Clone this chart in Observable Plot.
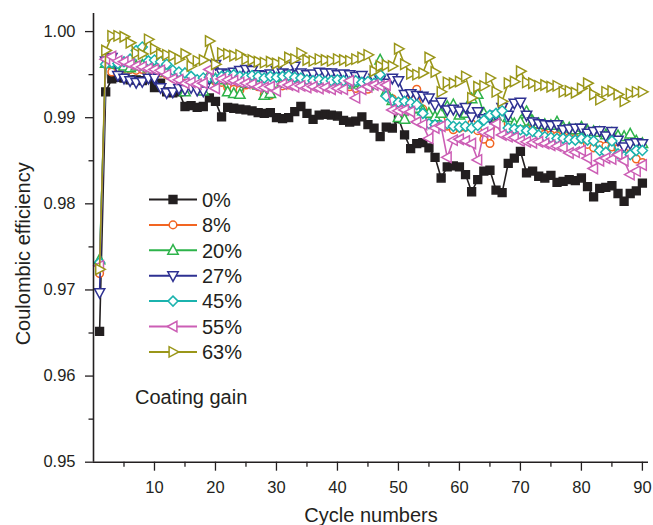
<!DOCTYPE html>
<html>
<head>
<meta charset="utf-8">
<script src="https://cdn.jsdelivr.net/npm/d3@7"></script>
<script src="https://cdn.jsdelivr.net/npm/@observablehq/plot@0.6"></script>
<style>
  html, body { margin: 0; padding: 0; background: #fff; }
  #chart { width: 653px; height: 525px; }
</style>
</head>
<body>
<div id="chart"></div>
<script>
// ---------- data ----------
const cycles = [1,2,3,4,5,6,7,8,9,10,11,12,13,14,15,16,17,18,19,20,21,22,23,24,25,26,27,28,29,30,
  31,32,33,34,35,36,37,38,39,40,41,42,43,44,45,46,47,48,49,50,51,52,53,54,55,56,57,58,59,60,
  61,62,63,64,65,66,67,68,69,70,71,72,73,74,75,76,77,78,79,80,81,82,83,84,85,86,87,88,89,90];

const seriesNames = ["0%", "8%", "20%", "27%", "45%", "55%", "63%"];

const ce0 = [0.9652,0.9930,0.9945,0.9947,0.9946,0.9944,0.9944,0.9943,0.9945,0.9935,
  0.9940,0.9930,0.9929,0.9930,0.9913,0.9914,0.9912,0.9913,0.9923,0.9919,
  0.9901,0.9912,0.9911,0.9910,0.9909,0.9908,0.9906,0.9905,0.9906,0.9900,
  0.9899,0.9900,0.9907,0.9913,0.9905,0.9898,0.9903,0.9904,0.9903,0.9902,
  0.9897,0.9895,0.9896,0.9901,0.9892,0.9888,0.9878,0.9889,0.9888,0.9899,
  0.9880,0.9864,0.9870,0.9871,0.9865,0.9854,0.9830,0.9843,0.9844,0.9843,
  0.9834,0.9814,0.9828,0.9838,0.9839,0.9816,0.9813,0.9847,0.9853,0.9861,
  0.9836,0.9838,0.9832,0.9830,0.9833,0.9825,0.9826,0.9828,0.9827,0.9830,
  0.9820,0.9808,0.9818,0.9819,0.9821,0.9812,0.9803,0.9812,0.9815,0.9824];

const ce8 = [0.9719,0.9962,0.9953,0.9958,0.9957,0.9956,0.9955,0.9956,0.9954,0.9953,
  0.9952,0.9950,0.9946,0.9942,0.9940,0.9941,0.9939,0.9938,0.9945,0.9942,
  0.9941,0.9935,0.9933,0.9932,0.9938,0.9939,0.9936,0.9927,0.9926,0.9935,
  0.9937,0.9938,0.9940,0.9939,0.9938,0.9937,0.9938,0.9936,0.9937,0.9936,
  0.9935,0.9936,0.9934,0.9935,0.9933,0.9940,0.9945,0.9927,0.9922,0.9918,
  0.9915,0.9928,0.9933,0.9910,0.9902,0.9895,0.9897,0.9890,0.9886,0.9888,
  0.9889,0.9893,0.9885,0.9875,0.9870,0.9895,0.9913,0.9893,0.9890,0.9888,
  0.9887,0.9886,0.9884,0.9881,0.9880,0.9879,0.9878,0.9877,0.9876,0.9875,
  0.9869,0.9865,0.9868,0.9867,0.9866,0.9864,0.9860,0.9858,0.9852,0.9848];

const ce20 = [0.9735,0.9963,0.9966,0.9962,0.9960,0.9958,0.9960,0.9961,0.9958,0.9957,
  0.9955,0.9953,0.9950,0.9938,0.9930,0.9940,0.9938,0.9931,0.9950,0.9945,
  0.9944,0.9930,0.9928,0.9927,0.9940,0.9942,0.9938,0.9926,0.9928,0.9940,
  0.9942,0.9941,0.9943,0.9944,0.9940,0.9941,0.9942,0.9940,0.9939,0.9941,
  0.9940,0.9939,0.9941,0.9938,0.9937,0.9950,0.9967,0.9930,0.9920,0.9900,
  0.9898,0.9910,0.9911,0.9908,0.9905,0.9901,0.9905,0.9913,0.9915,0.9903,
  0.9905,0.9922,0.9927,0.9905,0.9900,0.9902,0.9910,0.9900,0.9893,0.9895,
  0.9907,0.9896,0.9893,0.9892,0.9891,0.9895,0.9889,0.9888,0.9886,0.9889,
  0.9885,0.9884,0.9883,0.9880,0.9882,0.9879,0.9878,0.9881,0.9873,0.9870];

const ce27 = [0.9697,0.9966,0.9970,0.9949,0.9946,0.9943,0.9941,0.9942,0.9946,0.9946,
  0.9935,0.9929,0.9930,0.9934,0.9933,0.9935,0.9932,0.9931,0.9945,0.9962,
  0.9952,0.9951,0.9953,0.9955,0.9956,0.9955,0.9950,0.9949,0.9951,0.9955,
  0.9952,0.9951,0.9960,0.9952,0.9950,0.9951,0.9953,0.9952,0.9952,0.9950,
  0.9951,0.9950,0.9948,0.9949,0.9940,0.9946,0.9944,0.9940,0.9946,0.9943,
  0.9927,0.9928,0.9926,0.9925,0.9923,0.9915,0.9918,0.9909,0.9910,0.9908,
  0.9912,0.9901,0.9907,0.9899,0.9900,0.9903,0.9912,0.9903,0.9917,0.9918,
  0.9903,0.9895,0.9893,0.9892,0.9891,0.9892,0.9886,0.9887,0.9888,0.9888,
  0.9882,0.9884,0.9885,0.9879,0.9884,0.9874,0.9866,0.9870,0.9871,0.9870];

const ce45 = [0.9732,0.9962,0.9964,0.9963,0.9965,0.9968,0.9978,0.9982,0.9966,0.9967,
  0.9965,0.9962,0.9955,0.9953,0.9952,0.9948,0.9944,0.9946,0.9947,0.9945,
  0.9948,0.9949,0.9950,0.9948,0.9947,0.9949,0.9948,0.9946,0.9948,0.9947,
  0.9948,0.9949,0.9947,0.9946,0.9944,0.9943,0.9944,0.9942,0.9943,0.9944,
  0.9943,0.9942,0.9943,0.9941,0.9942,0.9940,0.9950,0.9925,0.9920,0.9918,
  0.9919,0.9917,0.9915,0.9905,0.9893,0.9892,0.9891,0.9893,0.9890,0.9889,
  0.9890,0.9888,0.9891,0.9897,0.9903,0.9905,0.9908,0.9888,0.9887,0.9886,
  0.9885,0.9884,0.9880,0.9878,0.9877,0.9876,0.9876,0.9875,0.9874,0.9876,
  0.9874,0.9873,0.9862,0.9860,0.9873,0.9858,0.9855,0.9857,0.9862,0.9862];

const ce55 = [0.9728,0.9968,0.9971,0.9966,0.9965,0.9962,0.9960,0.9959,0.9957,0.9956,
  0.9955,0.9950,0.9945,0.9944,0.9940,0.9941,0.9939,0.9940,0.9956,0.9934,
  0.9945,0.9944,0.9943,0.9941,0.9940,0.9939,0.9936,0.9935,0.9936,0.9931,
  0.9939,0.9938,0.9936,0.9937,0.9935,0.9936,0.9934,0.9935,0.9933,0.9934,
  0.9933,0.9943,0.9923,0.9933,0.9936,0.9938,0.9937,0.9938,0.9909,0.9908,
  0.9909,0.9907,0.9895,0.9892,0.9876,0.9888,0.9890,0.9854,0.9874,0.9875,
  0.9873,0.9870,0.9851,0.9883,0.9882,0.9893,0.9880,0.9878,0.9877,0.9873,
  0.9872,0.9871,0.9872,0.9870,0.9868,0.9867,0.9865,0.9859,0.9860,0.9862,
  0.9853,0.9841,0.9850,0.9853,0.9852,0.9857,0.9850,0.9834,0.9838,0.9845];

const ce63 = [0.9724,0.9978,0.9995,0.9995,0.9994,0.9987,0.9975,0.9974,0.9991,0.9980,
  0.9974,0.9973,0.9972,0.9968,0.9974,0.9960,0.9966,0.9967,0.9989,0.9962,
  0.9975,0.9974,0.9972,0.9973,0.9968,0.9967,0.9965,0.9964,0.9965,0.9963,
  0.9964,0.9970,0.9968,0.9975,0.9967,0.9966,0.9968,0.9967,0.9966,0.9968,
  0.9967,0.9966,0.9968,0.9970,0.9973,0.9954,0.9960,0.9961,0.9960,0.9980,
  0.9962,0.9951,0.9950,0.9952,0.9970,0.9953,0.9930,0.9941,0.9940,0.9942,
  0.9948,0.9923,0.9936,0.9937,0.9946,0.9930,0.9919,0.9940,0.9942,0.9954,
  0.9941,0.9940,0.9937,0.9938,0.9936,0.9937,0.9930,0.9931,0.9929,0.9934,
  0.9940,0.9927,0.9921,0.9930,0.9931,0.9927,0.9919,0.9928,0.9930,0.9930];

const xMajorTicks = [10, 20, 30, 40, 50, 60, 70, 80, 90];
const xMinorTicks = [5, 15, 25, 35, 45, 55, 65, 75, 85];
const yMajorTicks = [0.95, 0.96, 0.97, 0.98, 0.99, 1.00];
const yMinorTicks = [0.955, 0.965, 0.975, 0.985, 0.995];

const xLabel = "Cycle numbers";
const yLabel = "Coulombic efficiency";
const legendTitle = "Coating gain";

// ---------- styles ----------
const colors = ["#231f20", "#f26522", "#2db34a", "#2e3192", "#1bb3ae", "#cc5eb5", "#9a9619"];
const ink = "#231f20";
const font = "Arial, 'Liberation Sans', Helvetica, sans-serif";

function makeSymbol(fn) {
  return { draw(ctx, size) { const r = Math.sqrt(size / Math.PI); fn(ctx, r); } };
}
const symSquare = makeSymbol((c, r) => { c.moveTo(-r, -r); c.lineTo(r, -r); c.lineTo(r, r); c.lineTo(-r, r); c.closePath(); });
const symCircle = makeSymbol((c, r) => { c.moveTo(r, 0); c.arc(0, 0, r, 0, 2 * Math.PI); c.closePath(); });
const symUp = makeSymbol((c, r) => { c.moveTo(0, -r * 1.1); c.lineTo(r, r * 0.75); c.lineTo(-r, r * 0.75); c.closePath(); });
const symDown = makeSymbol((c, r) => { c.moveTo(0, r * 1.1); c.lineTo(r, -r * 0.75); c.lineTo(-r, -r * 0.75); c.closePath(); });
const symDiamond = makeSymbol((c, r) => { c.moveTo(0, -r); c.lineTo(r, 0); c.lineTo(0, r); c.lineTo(-r, 0); c.closePath(); });
const symLeft = makeSymbol((c, r) => { c.moveTo(-r * 1.1, 0); c.lineTo(r * 0.75, -r); c.lineTo(r * 0.75, r); c.closePath(); });
const symRight = makeSymbol((c, r) => { c.moveTo(r * 1.1, 0); c.lineTo(-r * 0.75, -r); c.lineTo(-r * 0.75, r); c.closePath(); });
const shapes = [symSquare, symCircle, symUp, symDown, symDiamond, symLeft, symRight];
const radii = [3.9, 3.8, 5.2, 5.2, 5, 5.2, 5.2];

const allValues = [ce0, ce8, ce20, ce27, ce45, ce55, ce63];
const tables = allValues.map((vals, i) =>
  cycles.map((c, j) => ({ cycle: c, ce: vals[j], series: seriesNames[i] })));

const seriesMarks = tables.flatMap((t, i) => [
  Plot.line(t, { x: "cycle", y: "ce", stroke: colors[i], strokeWidth: 1.6 }),
  Plot.dot(t, { x: "cycle", y: "ce", symbol: shapes[i], r: radii[i],
    fill: i === 0 ? colors[i] : "white", stroke: colors[i], strokeWidth: 1.5 })
]);

const blank = () => "";

const chart = Plot.plot({
  width: 653,
  height: 525,
  marginLeft: 93,
  marginRight: 5,
  marginTop: 13,
  marginBottom: 63.3,
  style: { fontFamily: font, color: ink, background: "white", overflow: "visible" },
  x: { domain: [0, 91], label: null },
  y: { domain: [0.95, 1.0021], label: null },
  marks: [
    ...seriesMarks,
    Plot.ruleX([0], { stroke: ink, strokeWidth: 1.6 }),
    Plot.ruleY([0.95], { stroke: ink, strokeWidth: 1.6 }),
    Plot.axisX(xMajorTicks, { tickSize: 9, tickPadding: 10, fontSize: 16.5, strokeWidth: 1.3, label: null }),
    Plot.axisX(xMinorTicks, { tickSize: 5, strokeWidth: 1.3, tickFormat: blank, label: null }),
    Plot.axisY(yMajorTicks, { tickSize: 8, tickPadding: 10, fontSize: 16.5, strokeWidth: 1.3,
      tickFormat: d3.format(".2f"), label: null }),
    Plot.axisY(yMinorTicks, { tickSize: 4.5, strokeWidth: 1.3, tickFormat: blank, label: null }),
    Plot.text([yLabel], { text: d => d, frameAnchor: "left", rotate: -90, dx: -70, dy: 16,
      fontSize: 20, fill: ink, textAnchor: "middle" }),
    Plot.text([xLabel], { text: d => d, frameAnchor: "bottom", dy: 60,
      fontSize: 20, fill: ink, textAnchor: "middle" })
  ]
});

// ---------- legend (inside plot area) ----------
const svg = d3.select(chart);
const lg = svg.append("g").attr("font-family", font).attr("font-size", 20)
  .attr("fill", ink).attr("text-anchor", "start");
const rowY0 = 199.5, rowStep = 25.4;
seriesNames.forEach((name, i) => {
  const y = rowY0 + i * rowStep;
  lg.append("line").attr("x1", 149).attr("x2", 197).attr("y1", y).attr("y2", y)
    .attr("stroke", colors[i]).attr("stroke-width", 2);
  lg.append("path")
    .attr("d", d3.symbol().type(shapes[i]).size(Math.PI * radii[i] * radii[i])())
    .attr("transform", `translate(173,${y})`)
    .attr("fill", i === 0 ? colors[i] : "white")
    .attr("stroke", colors[i]).attr("stroke-width", 1.5);
  lg.append("text").attr("x", 202).attr("y", y).attr("dy", "0.36em")
    .attr("text-anchor", "start").text(name);
});
lg.append("text").attr("x", 135).attr("y", 397).attr("dy", "0.36em")
  .attr("text-anchor", "start").text(legendTitle);

document.getElementById("chart").appendChild(chart);
</script>
</body>
</html>
